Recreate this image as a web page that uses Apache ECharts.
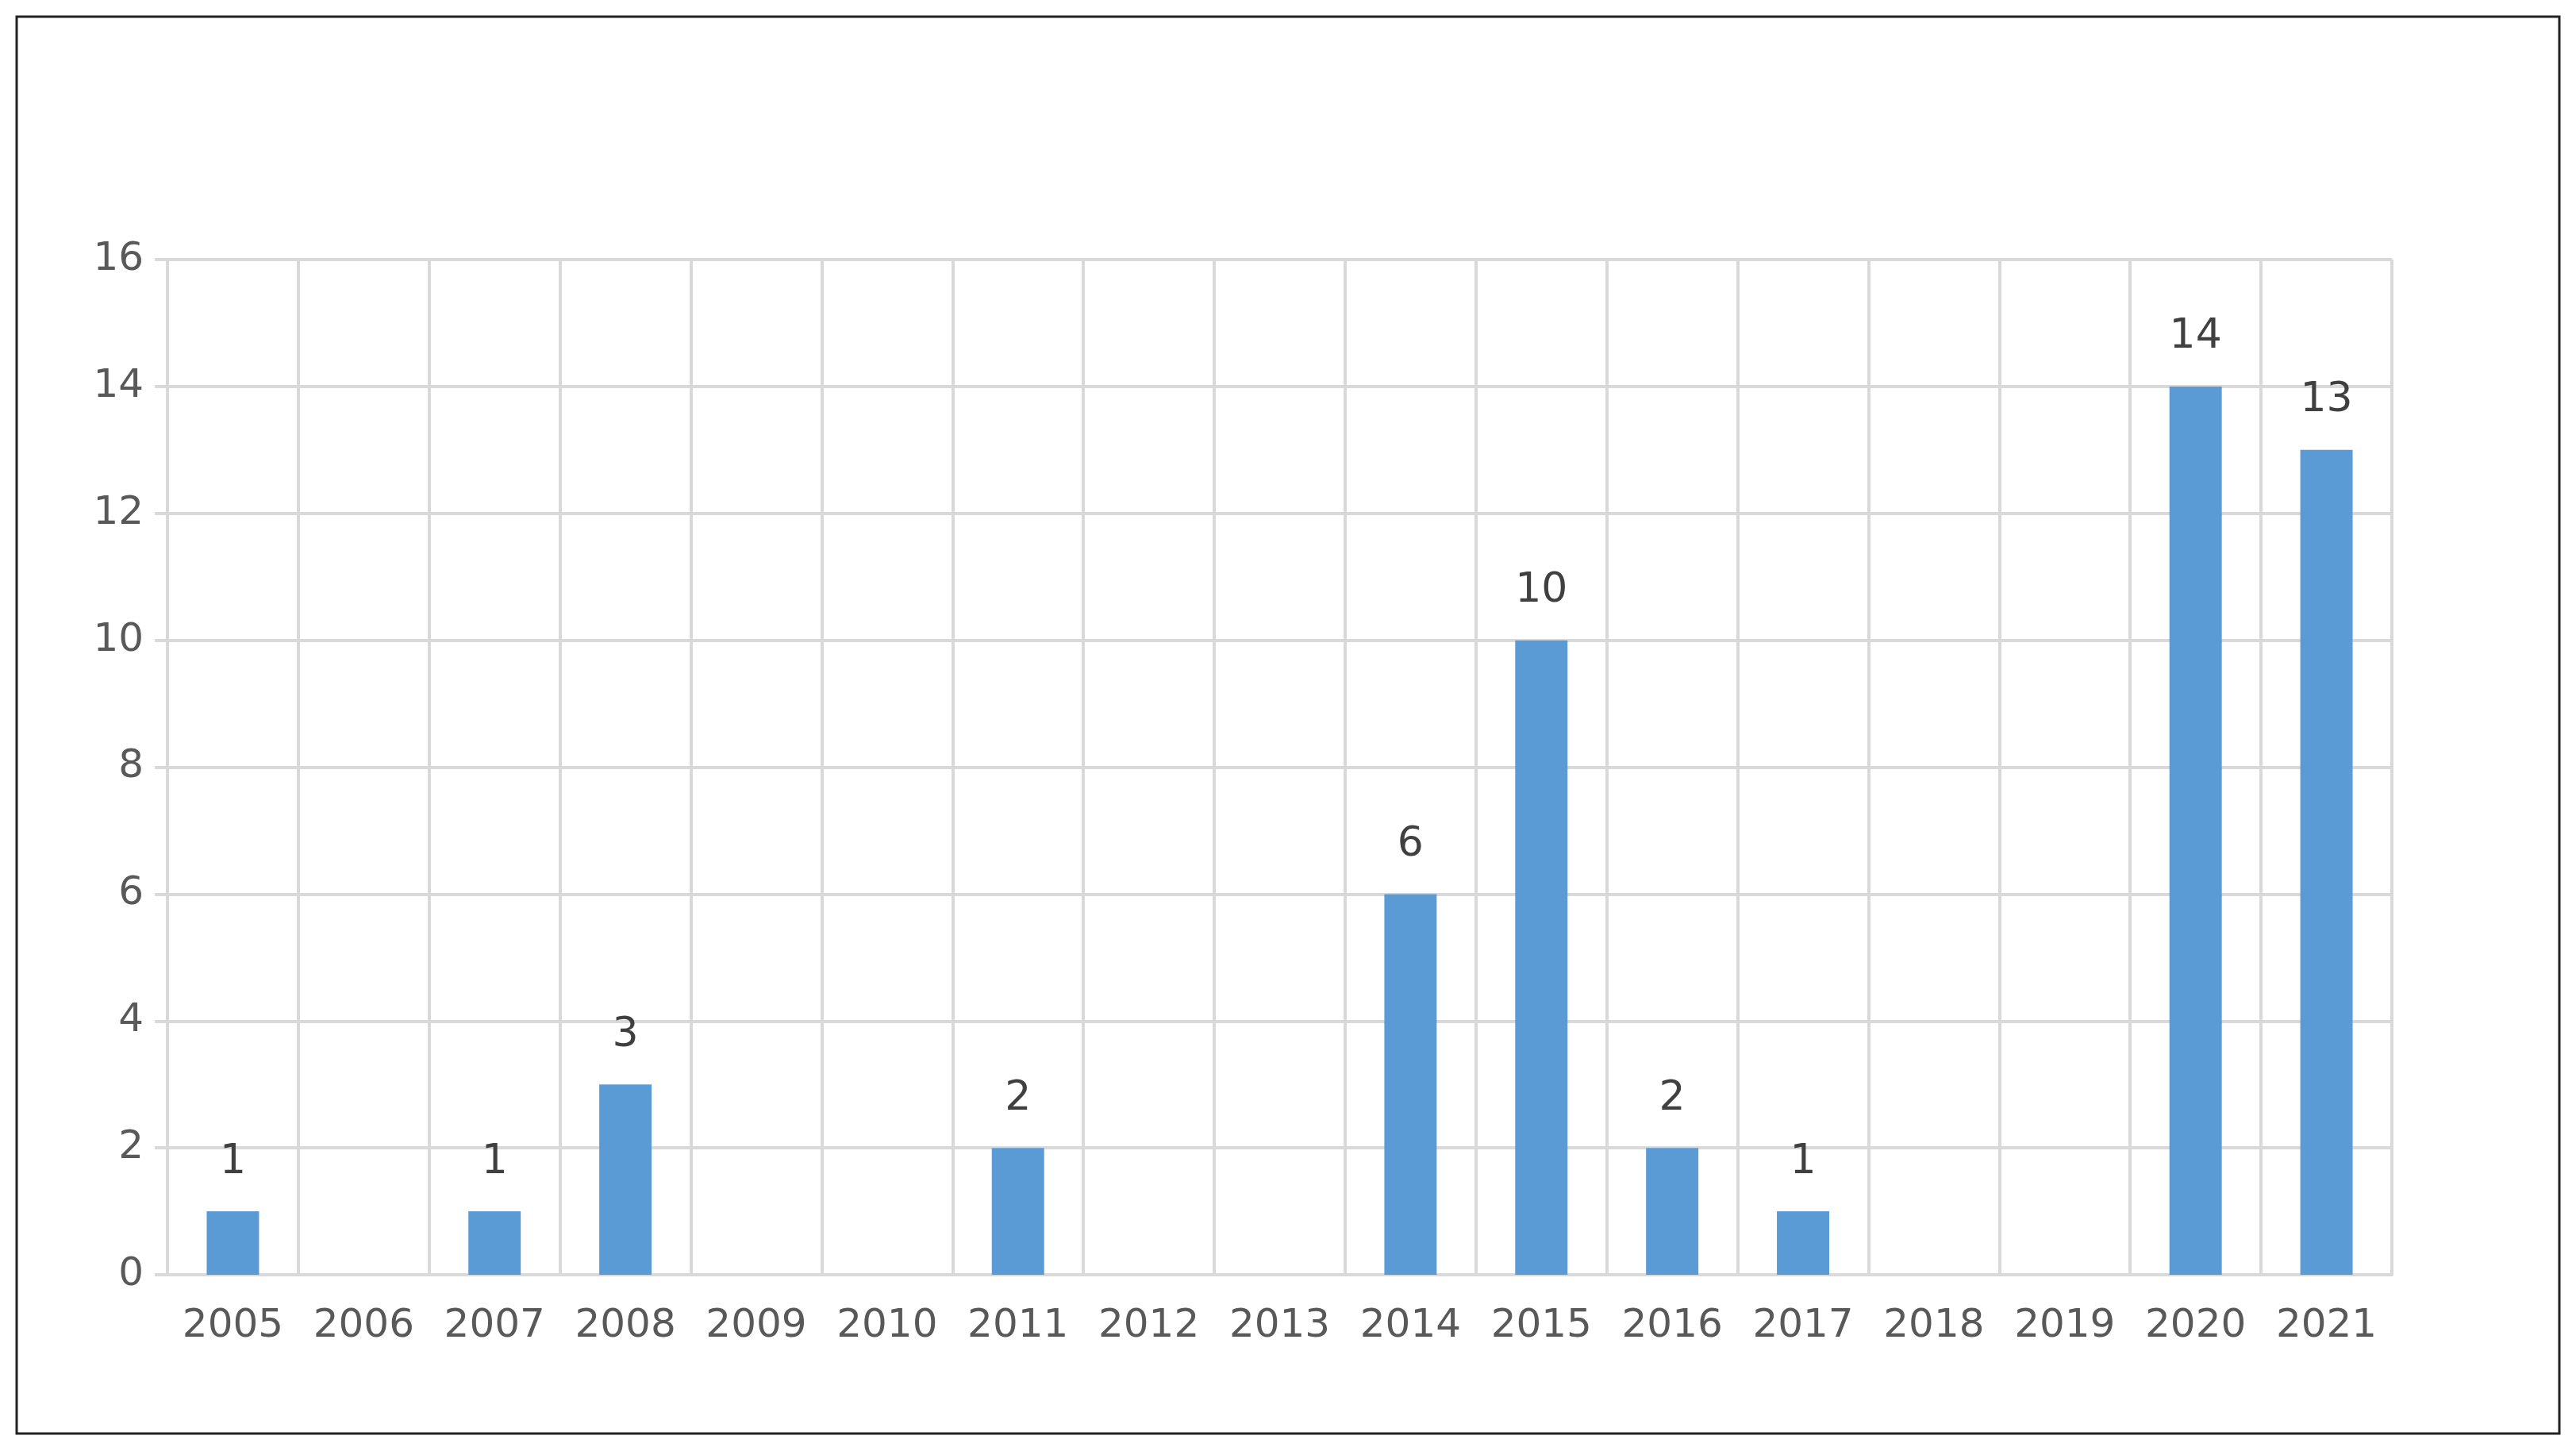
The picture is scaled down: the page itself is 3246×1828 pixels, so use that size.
<!DOCTYPE html>
<html>
<head>
<meta charset="utf-8">
<script src="https://cdn.jsdelivr.net/npm/echarts@6/dist/echarts.min.js"></script>
<style>html,body{margin:0;padding:0;background:#fff}#chart{width:3246px;height:1828px}</style>
</head>
<body>
<div id="chart"></div>
<script>
var years = ['2005','2006','2007','2008','2009','2010','2011','2012','2013','2014','2015','2016','2017','2018','2019','2020','2021'];
var counts = [1, 0, 1, 3, 0, 0, 2, 0, 0, 6, 10, 2, 1, 0, 0, 14, 13];
var yTicks = [0, 2, 4, 6, 8, 10, 12, 14, 16];

var myChart = echarts.init(document.getElementById('chart'));
var gridColor = '#d9d9d9';
var option = {
    backgroundColor: '#fff',
    textStyle: {fontFamily: 'DejaVu Sans'},
    graphic: [{
        type: 'rect',
        shape: {x: 21, y: 21, width: 3204, height: 1785},
        style: {fill: 'none', stroke: '#222', lineWidth: 3}
    }],
    grid: {left: 211, right: 232, top: 327, bottom: 222},
    xAxis: {
        type: 'category',
        data: years,
        axisLine: {lineStyle: {color: gridColor, width: 4}},
        axisTick: {show: true, length: 0},
        splitLine: {show: true, lineStyle: {color: gridColor, width: 4}},
        axisLabel: {color: '#595959', fontSize: 50, margin: 40, interval: 0}
    },
    yAxis: {
        type: 'value',
        min: yTicks[0],
        max: yTicks[yTicks.length - 1],
        interval: 2,
        axisLine: {show: true, lineStyle: {color: gridColor, width: 4}},
        axisTick: {show: true, length: 16, lineStyle: {color: gridColor, width: 4}},
        splitLine: {lineStyle: {color: gridColor, width: 4}},
        axisLabel: {color: '#595959', fontSize: 50, margin: 30}
    },
    series: [{
        type: 'bar',
        data: counts.map(function (v) { return v === 0 ? null : v; }),
        barWidth: '40%',
        itemStyle: {color: '#5b9bd5'},
        label: {
            show: true,
            position: 'top',
            distance: 36,
            color: '#404040',
            fontSize: 52
        }
    }]
};
myChart.setOption(option, true);
</script>
</body>
</html>
